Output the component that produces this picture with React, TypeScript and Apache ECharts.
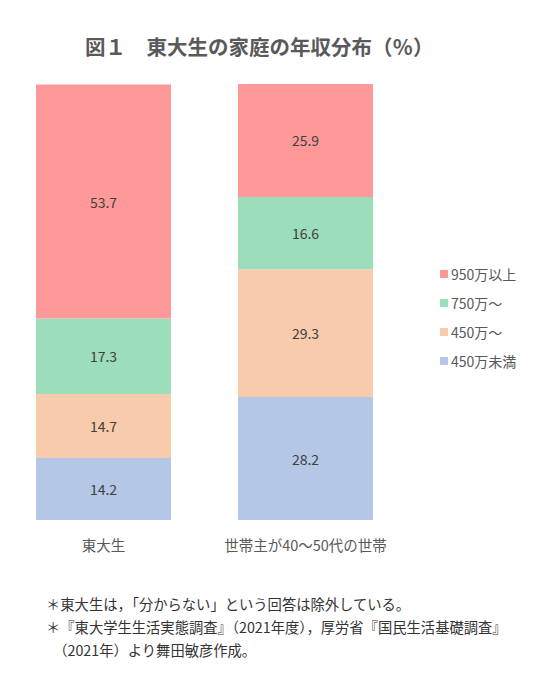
import React, { useEffect, useRef } from "react";
import * as echarts from "echarts";

const categories = ["東大生", "世帯主が40～50代の世帯"];
const seriesNames = ["450万未満", "450万～", "750万～", "950万以上"];
const under450 = [14.2, 28.2];
const from450 = [14.7, 29.3];
const from750 = [17.3, 16.6];
const over950 = [53.7, 25.9];
const colors = ["#B4C7E7", "#F8CBAD", "#9CDDBB", "#FF9999"];
const title = "図１　東大生の家庭の年収分布（％）";
const notes = [
  "＊東大生は，「分からない」という回答は除外している。",
  "＊『東大学生生活実態調査』（2021年度），厚労省『国民生活基礎調査』",
  "　（2021年）より舞田敏彦作成。",
];

const FONT = "'Noto Sans CJK JP', 'Noto Sans', sans-serif";

export default function App() {
  const ref = useRef<HTMLDivElement>(null);
  useEffect(() => {
    if (!ref.current) return;
    const chart = echarts.init(ref.current, undefined, { renderer: "svg" });
    const values = [under450, from450, from750, over950];
    chart.setOption({
      animation: false,
      backgroundColor: "#ffffff",
      textStyle: { fontFamily: FONT },
      title: {
        text: title,
        left: 80,
        top: 31,
        textStyle: { fontSize: 20.5, fontWeight: "bold", color: "#595959", fontFamily: FONT },
      },
      legend: {
        orient: "vertical",
        left: 435,
        top: 262,
        itemWidth: 8,
        itemHeight: 8,
        itemGap: 15,
        icon: "rect",
        data: [...seriesNames].reverse(),
        textStyle: { fontSize: 14, color: "#595959", fontFamily: FONT, padding: [0, 0, 0, -2] },
      },
      grid: { left: 2.5, width: 404, top: 84, bottom: 164 },
      xAxis: {
        type: "category",
        data: categories,
        axisLine: { show: false },
        axisTick: { show: false },
        axisLabel: { interval: 0, color: "#595959", fontSize: 14.5, margin: 17, fontFamily: FONT },
      },
      yAxis: { type: "value", min: 0, max: 100, show: false },
      series: seriesNames.map((name, i) => ({
        name,
        type: "bar",
        stack: "total",
        barWidth: 135,
        data: values[i],
        itemStyle: { color: colors[i] },
        label: {
          show: true,
          position: "inside",
          color: "#404040",
          fontSize: 14,
          fontFamily: FONT,
          formatter: (p: any) => p.value.toFixed(1),
        },
      })),
      graphic: notes.map((t, i) => ({
        type: "text",
        left: 46,
        top: 596 + i * 23,
        style: { text: t, fill: "#333333", font: `14.3px ${FONT}` },
      })),
    });
    return () => chart.dispose();
  }, []);
  return (
    <div
      ref={ref}
      style={{ position: "fixed", left: 0, top: 0, width: 550, height: 684 }}
    />
  );
}
